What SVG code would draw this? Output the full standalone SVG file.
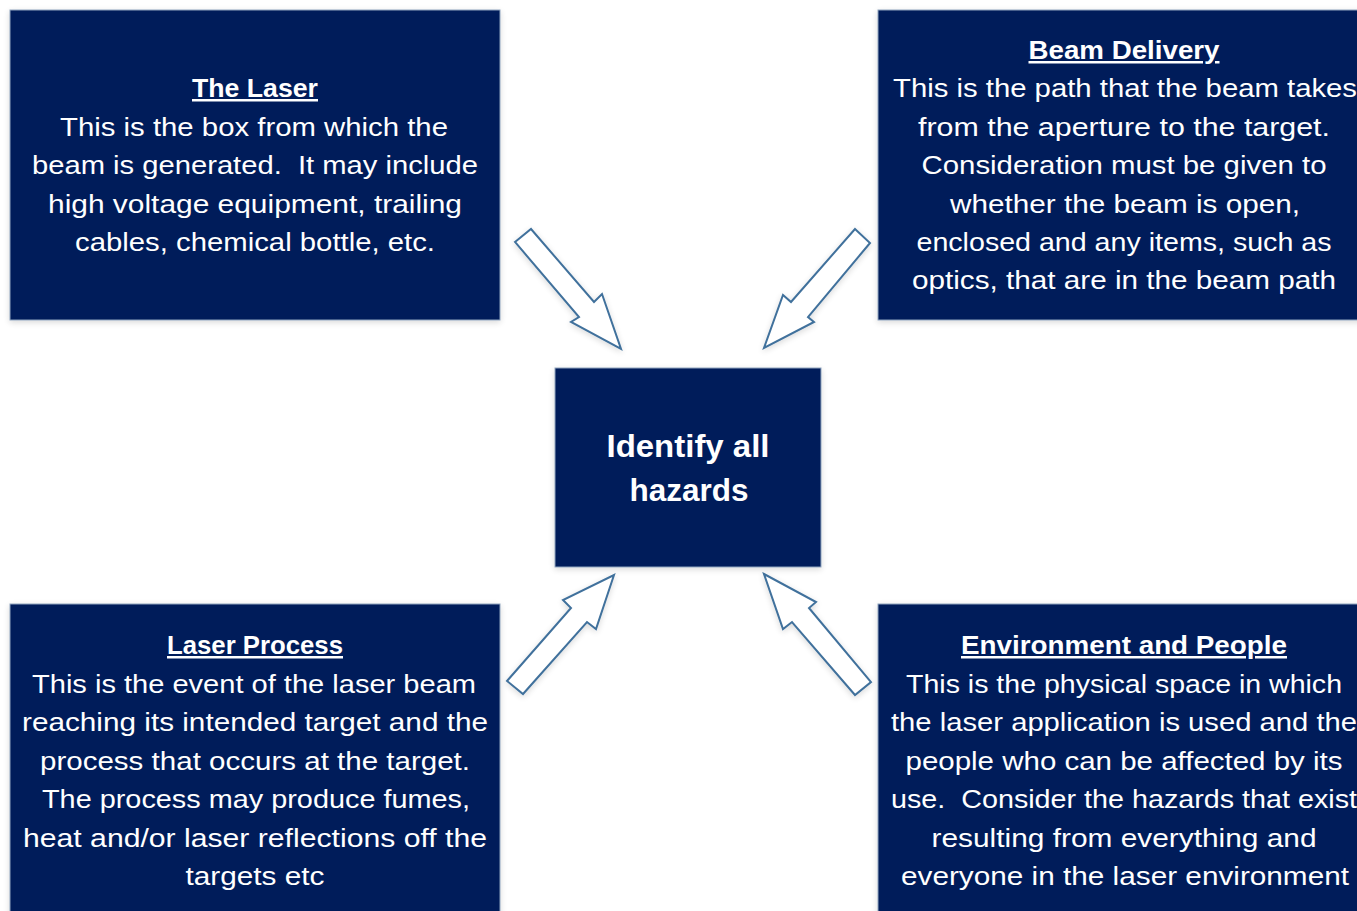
<svg xmlns="http://www.w3.org/2000/svg" width="1357" height="911" viewBox="0 0 1357 911">
<style>
.box{fill:#001F5A;stroke:#8FA3BE;stroke-width:1}
.t{font-family:"Liberation Sans",Arial,sans-serif;font-size:25px;fill:#FFFFFF;text-anchor:middle;white-space:pre}
.h{font-weight:bold;text-decoration:underline}
.c{font-family:"Liberation Sans",Arial,sans-serif;font-size:31px;font-weight:bold;fill:#FFFFFF;text-anchor:middle}
.arr{fill:#FFFFFF;stroke:#41719C;stroke-width:2;stroke-linejoin:miter}
</style>
<defs>
<filter id="sh" x="-10%" y="-10%" width="120%" height="120%">
<feGaussianBlur in="SourceAlpha" stdDeviation="3"/>
<feOffset dx="0" dy="2"/>
<feComponentTransfer><feFuncA type="linear" slope="0.15"/></feComponentTransfer>
<feMerge><feMergeNode/><feMergeNode in="SourceGraphic"/></feMerge>
</filter>
</defs>
<rect width="1357" height="911" fill="#FFFFFF"/>
<g id="connectors" filter="url(#sh)">
<polygon class="arr" points="515,242 531,229 594,302 602,294 621,349 571,322 579,317"/>
<polygon class="arr" points="855,229 870,243 808,317 814,322 764,348 783,295 791,302"/>
<polygon class="arr" points="614,575 596,629 587,622 523,694 507,681 571,608 563,600"/>
<polygon class="arr" points="764,574 816,602 809,608 871,682 855,695 792,622 783,629"/>
</g>
<g id="the-laser">
<rect class="box" x="10" y="10" width="490" height="310" filter="url(#sh)"/>
<text class="t h" x="255" y="97" textLength="126" lengthAdjust="spacingAndGlyphs">The Laser</text>
<text class="t" x="254" y="136" textLength="388" lengthAdjust="spacingAndGlyphs">This is the box from which the</text>
<text class="t" x="255" y="174" textLength="446" lengthAdjust="spacingAndGlyphs" xml:space="preserve">beam is generated.  It may include</text>
<text class="t" x="255" y="213" textLength="414" lengthAdjust="spacingAndGlyphs">high voltage equipment, trailing</text>
<text class="t" x="255" y="251" textLength="360" lengthAdjust="spacingAndGlyphs">cables, chemical bottle, etc.</text>
</g>
<g id="beam-delivery">
<rect class="box" x="878" y="10" width="490" height="310" filter="url(#sh)"/>
<text class="t h" x="1124" y="59" textLength="191" lengthAdjust="spacingAndGlyphs">Beam Delivery</text>
<text class="t" x="1125" y="97" textLength="464" lengthAdjust="spacingAndGlyphs">This is the path that the beam takes</text>
<text class="t" x="1124" y="136" textLength="412" lengthAdjust="spacingAndGlyphs">from the aperture to the target.</text>
<text class="t" x="1124" y="174" textLength="405" lengthAdjust="spacingAndGlyphs">Consideration must be given to</text>
<text class="t" x="1125" y="213" textLength="350" lengthAdjust="spacingAndGlyphs">whether the beam is open,</text>
<text class="t" x="1124" y="251" textLength="415" lengthAdjust="spacingAndGlyphs">enclosed and any items, such as</text>
<text class="t" x="1124" y="289" textLength="424" lengthAdjust="spacingAndGlyphs">optics, that are in the beam path</text>
</g>
<g id="identify-all-hazards">
<rect class="box" x="555" y="368" width="266" height="199" filter="url(#sh)"/>
<text class="c" x="688" y="457" textLength="163" lengthAdjust="spacingAndGlyphs">Identify all</text>
<text class="c" x="689" y="501" textLength="119" lengthAdjust="spacingAndGlyphs">hazards</text>
</g>
<g id="laser-process">
<rect class="box" x="10" y="604" width="490" height="320" filter="url(#sh)"/>
<text class="t h" x="255" y="654" textLength="176" lengthAdjust="spacingAndGlyphs">Laser Process</text>
<text class="t" x="254" y="693" textLength="444" lengthAdjust="spacingAndGlyphs">This is the event of the laser beam</text>
<text class="t" x="255" y="731" textLength="466" lengthAdjust="spacingAndGlyphs">reaching its intended target and the</text>
<text class="t" x="255" y="770" textLength="430" lengthAdjust="spacingAndGlyphs">process that occurs at the target.</text>
<text class="t" x="256" y="808" textLength="428" lengthAdjust="spacingAndGlyphs">The process may produce fumes,</text>
<text class="t" x="255" y="847" textLength="464" lengthAdjust="spacingAndGlyphs">heat and/or laser reflections off the</text>
<text class="t" x="255" y="885" textLength="139" lengthAdjust="spacingAndGlyphs">targets etc</text>
</g>
<g id="environment-and-people">
<rect class="box" x="878" y="604" width="490" height="320" filter="url(#sh)"/>
<text class="t h" x="1124" y="654" textLength="326" lengthAdjust="spacingAndGlyphs">Environment and People</text>
<text class="t" x="1124" y="693" textLength="436" lengthAdjust="spacingAndGlyphs">This is the physical space in which</text>
<text class="t" x="1124" y="731" textLength="466" lengthAdjust="spacingAndGlyphs">the laser application is used and the</text>
<text class="t" x="1124" y="770" textLength="437" lengthAdjust="spacingAndGlyphs">people who can be affected by its</text>
<text class="t" x="1124" y="808" textLength="466" lengthAdjust="spacingAndGlyphs" xml:space="preserve">use.  Consider the hazards that exist</text>
<text class="t" x="1124" y="847" textLength="385" lengthAdjust="spacingAndGlyphs">resulting from everything and</text>
<text class="t" x="1125" y="885" textLength="448" lengthAdjust="spacingAndGlyphs">everyone in the laser environment</text>
</g>
</svg>
